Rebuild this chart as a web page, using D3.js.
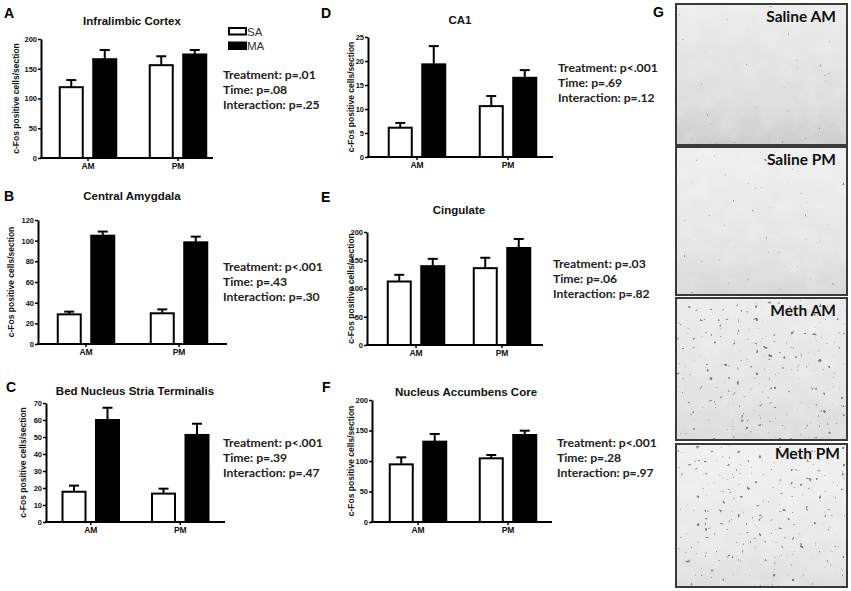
<!DOCTYPE html>
<html>
<head>
<meta charset="utf-8">
<script src="https://cdn.jsdelivr.net/npm/d3@7"></script>
<style>
  body { margin: 0; background: #fff; }
  svg { display: block; }
  .tick text { font-family: "Liberation Sans", Arial, sans-serif; font-weight: bold; }
</style>
</head>
<body>
<div id="main"></div>
<script>
// ---- data ----
var times = ['AM', 'PM'];
var groups = ['SA', 'MA'];

var infralimbicSA = [119, 156];
var infralimbicMA = [166, 174];
var infralimbicSAErr = [12, 15];
var infralimbicMAErr = [15.5, 7.5];
var infralimbicTicks = [0, 50, 100, 150, 200];
var infralimbicStats = ['Treatment: p=.01', 'Time: p=.08', 'Interaction: p=.25'];

var amygdalaSA = [28.7, 29.7];
var amygdalaMA = [104.8, 98.4];
var amygdalaSAErr = [2.6, 3.8];
var amygdalaMAErr = [4, 5.5];
var amygdalaTicks = [0, 20, 40, 60, 80, 100, 120];
var amygdalaStats = ['Treatment: p<.001', 'Time: p=.43', 'Interaction: p=.30'];

var bnstSA = [17.8, 16.7];
var bnstMA = [60, 51.2];
var bnstSAErr = [3.6, 2.9];
var bnstMAErr = [7.2, 6.6];
var bnstTicks = [0, 10, 20, 30, 40, 50, 60, 70];
var bnstStats = ['Treatment: p<.001', 'Time: p=.39', 'Interaction: p=.47'];

var ca1SA = [6.1, 10.6];
var ca1MA = [19.3, 16.5];
var ca1SAErr = [1.0, 2.1];
var ca1MAErr = [3.8, 1.6];
var ca1Ticks = [0, 5, 10, 15, 20, 25];
var ca1Stats = ['Treatment: p<.001', 'Time: p=.69', 'Interaction: p=.12'];

var cingulateSA = [112.4, 136];
var cingulateMA = [139.5, 171.7];
var cingulateSAErr = [11.8, 18.4];
var cingulateMAErr = [13, 16];
var cingulateTicks = [0, 50, 100, 150, 200];
var cingulateStats = ['Treatment: p=.03', 'Time: p=.06', 'Interaction: p=.82'];

var accumbensSA = [94.5, 104.4];
var accumbensMA = [131.7, 142.6];
var accumbensSAErr = [11.5, 5.4];
var accumbensMAErr = [12.6, 7.1];
var accumbensTicks = [0, 50, 100, 150, 200];
var accumbensStats = ['Treatment: p<.001', 'Time: p=.28', 'Interaction: p=.97'];

var photoLabels = ['Saline AM', 'Saline PM', 'Meth AM', 'Meth PM'];
var yLabel = 'c-Fos positive cells/section';

// ---- layout ----
var panels = [
  {letter: 'A', title: 'Infralimbic Cortex', sa: infralimbicSA, ma: infralimbicMA, saErr: infralimbicSAErr, maErr: infralimbicMAErr,
   ticks: infralimbicTicks, stats: infralimbicStats, legend: true,
   x0: 41, x1: 213, yTop: 39, y0: 158, band: [43, 223], labelX: 16,
   letterPos: [4, 18], titlePos: [132, 25], statPos: [223, 79]},
  {letter: 'B', title: 'Central Amygdala', sa: amygdalaSA, ma: amygdalaMA, saErr: amygdalaSAErr, maErr: amygdalaMAErr,
   ticks: amygdalaTicks, stats: amygdalaStats,
   x0: 38, x1: 227, yTop: 220, y0: 344, band: [39.5, 225.5], labelX: 11,
   letterPos: [4, 201], titlePos: [132, 200], statPos: [223, 271]},
  {letter: 'C', title: 'Bed Nucleus Stria Terminalis', sa: bnstSA, ma: bnstMA, saErr: bnstSAErr, maErr: bnstMAErr,
   ticks: bnstTicks, stats: bnstStats,
   x0: 46, x1: 225, yTop: 403, y0: 522, band: [46, 225], labelX: 23,
   letterPos: [6, 392], titlePos: [135, 395], statPos: [223, 447]},
  {letter: 'D', title: 'CA1', sa: ca1SA, ma: ca1MA, saErr: ca1SAErr, maErr: ca1MAErr,
   ticks: ca1Ticks, stats: ca1Stats,
   x0: 368, x1: 553, yTop: 37, y0: 157, band: [371.5, 553.5], labelX: 351,
   letterPos: [321, 18], titlePos: [460, 24], statPos: [558, 72]},
  {letter: 'E', title: 'Cingulate', sa: cingulateSA, ma: cingulateMA, saErr: cingulateSAErr, maErr: cingulateMAErr,
   ticks: cingulateTicks, stats: cingulateStats,
   x0: 367, x1: 543, yTop: 232, y0: 345, band: [373, 545], labelX: 350.5,
   letterPos: [321, 202], titlePos: [459, 214], statPos: [553, 268]},
  {letter: 'F', title: 'Nucleus Accumbens Core', sa: accumbensSA, ma: accumbensMA, saErr: accumbensSAErr, maErr: accumbensMAErr,
   ticks: accumbensTicks, stats: accumbensStats,
   x0: 372, x1: 552, yTop: 400, y0: 522, band: [373, 553], labelX: 351,
   letterPos: [322, 392], titlePos: [466, 396], statPos: [557, 447]}
];

var photos = [
  {y0: 4, y1: 145, top: '#ececec', bottom: '#cbcbcb', thr: 3.0, seed: 2},
  {y0: 147, y1: 295, top: '#efefef', bottom: '#d6d6d6', thr: 2.9, seed: 5},
  {y0: 298, y1: 440, top: '#ebebeb', bottom: '#dadada', thr: 4.25, seed: 8},
  {y0: 444, y1: 587, top: '#f0f0f0', bottom: '#dedede', thr: 4.15, seed: 11}
];

var W = 851, H = 591;
var sansBold = '"Liberation Sans", Arial, sans-serif';
var calib = 'Lato, "Open Sans", sans-serif';

function Figure() {}

Figure.prototype.init = function() {
  this.svg = d3.select('#main')
    .append('svg')
    .attr('width', W)
    .attr('height', H);
  this.svg.append('rect').attr('width', W).attr('height', H).attr('fill', '#fff');
  this.defs = this.svg.append('defs');
};

Figure.prototype.drawPanel = function(p) {
  var g = this.svg.append('g').attr('class', 'panel');

  var y = d3.scaleLinear()
    .domain([0, p.ticks[p.ticks.length - 1]])
    .range([p.y0, p.yTop]);

  var xOuter = d3.scaleBand().domain(times).range(p.band);
  var xInner = d3.scaleBand().domain(groups).range([-28.25, 28.25]).paddingInner(0.313);

  var rows = [];
  times.forEach(function(t, i) {
    rows.push({time: t, group: 'SA', mean: p.sa[i], err: p.saErr[i]});
    rows.push({time: t, group: 'MA', mean: p.ma[i], err: p.maErr[i]});
  });
  function cx(d) { return xOuter(d.time) + xOuter.bandwidth() / 2 + xInner(d.group) + xInner.bandwidth() / 2; }

  // error bars (upper half only)
  var eb = g.append('g').attr('stroke', '#000').attr('stroke-width', 2);
  eb.selectAll('line.v').data(rows).enter().append('line')
    .attr('x1', cx).attr('x2', cx)
    .attr('y1', function(d) { return y(d.mean); })
    .attr('y2', function(d) { return y(d.mean + d.err); });
  eb.selectAll('line.c').data(rows).enter().append('line')
    .attr('x1', function(d) { return cx(d) - 5; })
    .attr('x2', function(d) { return cx(d) + 5; })
    .attr('y1', function(d) { return y(d.mean + d.err); })
    .attr('y2', function(d) { return y(d.mean + d.err); });

  g.selectAll('rect.bar').data(rows).enter().append('rect')
    .attr('class', 'bar')
    .attr('x', function(d) { return cx(d) - xInner.bandwidth() / 2; })
    .attr('width', xInner.bandwidth())
    .attr('y', function(d) { return y(d.mean); })
    .attr('height', function(d) { return p.y0 - y(d.mean); })
    .attr('fill', function(d) { return d.group === 'SA' ? '#fff' : '#000'; })
    .attr('stroke', '#000')
    .attr('stroke-width', 2);

  // y axis
  var ya = g.append('g')
    .attr('transform', 'translate(' + p.x0 + ',0)')
    .call(d3.axisLeft(y).tickValues(p.ticks).tickSize(3).tickSizeOuter(0).tickPadding(1).tickFormat(d3.format('d')));
  ya.select('.domain').attr('stroke-width', 2);
  ya.selectAll('.tick line').attr('stroke-width', 1.5);
  ya.selectAll('.tick text').attr('font-size', 7.5).attr('fill', '#111');

  // x axis
  var xa = g.append('g')
    .attr('transform', 'translate(0,' + p.y0 + ')')
    .call(d3.axisBottom(xOuter).tickSize(3).tickSizeOuter(0).tickPadding(2));
  xa.select('.domain').remove();
  xa.selectAll('.tick line').attr('stroke-width', 1.5);
  xa.selectAll('.tick text').attr('font-size', 8.5).attr('fill', '#111');
  g.append('line')
    .attr('x1', p.x0 - 1).attr('x2', p.x1)
    .attr('y1', p.y0).attr('y2', p.y0)
    .attr('stroke', '#000').attr('stroke-width', 2);

  // y label
  g.append('text')
    .attr('transform', 'translate(' + (p.labelX + 3) + ',' + ((p.yTop + p.y0) / 2) + ') rotate(-90)')
    .attr('text-anchor', 'middle')
    .attr('font-family', sansBold).attr('font-weight', 'bold').attr('font-size', 8.5)
    .attr('fill', '#111')
    .text(yLabel);

  // letter and title
  g.append('text')
    .attr('x', p.letterPos[0]).attr('y', p.letterPos[1])
    .attr('font-family', sansBold).attr('font-weight', 'bold').attr('font-size', 14)
    .text(p.letter);
  g.append('text')
    .attr('x', p.titlePos[0]).attr('y', p.titlePos[1])
    .attr('text-anchor', 'middle')
    .attr('font-family', sansBold).attr('font-weight', 'bold').attr('font-size', 11.5)
    .attr('fill', '#111')
    .text(p.title);

  // stats
  g.selectAll('text.stat').data(p.stats).enter().append('text')
    .attr('class', 'stat')
    .attr('x', p.statPos[0])
    .attr('y', function(d, i) { return p.statPos[1] + i * 15; })
    .attr('font-family', calib).attr('font-weight', 'bold').attr('font-size', 12.2)
    .attr('fill', '#222')
    .text(function(d) { return d; });

  if (p.legend) {
    var lg = g.append('g');
    lg.selectAll('rect').data(groups).enter().append('rect')
      .attr('x', 229).attr('y', function(d, i) { return 28 + i * 14.5; })
      .attr('width', 17).attr('height', 6.5)
      .attr('fill', function(d) { return d === 'SA' ? '#fff' : '#000'; })
      .attr('stroke', '#000').attr('stroke-width', 2);
    lg.selectAll('text').data(groups).enter().append('text')
      .attr('x', 247).attr('y', function(d, i) { return 35.5 + i * 14.5; })
      .attr('font-family', '"Liberation Sans", Arial, sans-serif').attr('font-size', 11.5)
      .attr('fill', '#333')
      .text(function(d) { return d; });
  }
};

Figure.prototype.drawPhotos = function() {
  var defs = this.defs;
  var svg = this.svg;
  var px0 = 676, px1 = 847;

  svg.append('text')
    .attr('x', 653).attr('y', 17)
    .attr('font-family', sansBold).attr('font-weight', 'bold').attr('font-size', 14)
    .text('G');

  photos.forEach(function(ph, i) {
    var gid = 'grad' + i, fid = 'speck' + i;
    var lg = defs.append('linearGradient').attr('id', gid)
      .attr('x1', 0).attr('y1', 0).attr('x2', 0).attr('y2', 1);
    lg.append('stop').attr('offset', '0%').attr('stop-color', ph.top);
    lg.append('stop').attr('offset', '70%').attr('stop-color', d3.interpolateRgb(ph.top, ph.bottom)(0.45));
    lg.append('stop').attr('offset', '100%').attr('stop-color', ph.bottom);

    // cell-like speckle texture
    var f = defs.append('filter').attr('id', fid)
      .attr('x', 0).attr('y', 0).attr('width', 1).attr('height', 1);
    f.append('feTurbulence').attr('type', 'fractalNoise')
      .attr('baseFrequency', 0.22).attr('numOctaves', 2).attr('seed', ph.seed);
    f.append('feColorMatrix').attr('type', 'matrix')
      .attr('values', '0 0 0 0 0.15  0 0 0 0 0.15  0 0 0 0 0.15  -15 0 0 0 ' + ph.thr);

    // soft tissue grain
    var grain = 'grain' + i;
    var fg = defs.append('filter').attr('id', grain)
      .attr('x', 0).attr('y', 0).attr('width', 1).attr('height', 1);
    fg.append('feTurbulence').attr('type', 'fractalNoise')
      .attr('baseFrequency', 0.05).attr('numOctaves', 3).attr('seed', ph.seed + 20);
    fg.append('feColorMatrix').attr('type', 'matrix')
      .attr('values', '0 0 0 0 1  0 0 0 0 1  0 0 0 0 1  1.2 0 0 0 -0.45');

    var g = svg.append('g');
    g.append('rect')
      .attr('x', px0).attr('y', ph.y0)
      .attr('width', px1 - px0).attr('height', ph.y1 - ph.y0)
      .attr('fill', 'url(#' + gid + ')');
    g.append('rect')
      .attr('x', px0).attr('y', ph.y0)
      .attr('width', px1 - px0).attr('height', ph.y1 - ph.y0)
      .attr('filter', 'url(#' + grain + ')').attr('opacity', 0.4);
    g.append('rect')
      .attr('x', px0).attr('y', ph.y0)
      .attr('width', px1 - px0).attr('height', ph.y1 - ph.y0)
      .attr('filter', 'url(#' + fid + ')').attr('opacity', 0.85);
    g.append('rect')
      .attr('x', px0).attr('y', ph.y0)
      .attr('width', px1 - px0).attr('height', ph.y1 - ph.y0)
      .attr('fill', 'none').attr('stroke', '#3a3a3a').attr('stroke-width', 2);
    g.append('text')
      .attr('x', i === 3 ? 840 : 836).attr('y', ph.y0 + (i === 3 ? 15 : 18))
      .attr('text-anchor', 'end')
      .attr('font-family', calib).attr('font-weight', 'bold').attr('font-size', 15.5)
      .attr('fill', '#111')
      .text(photoLabels[i]);
  });
};

Figure.prototype.render = function() {
  var self = this;
  panels.forEach(function(p) { self.drawPanel(p); });
  this.drawPhotos();
};

document.addEventListener('DOMContentLoaded', function() {
  var fig = new Figure();
  fig.init();
  fig.render();
});
</script>
</body>
</html>
